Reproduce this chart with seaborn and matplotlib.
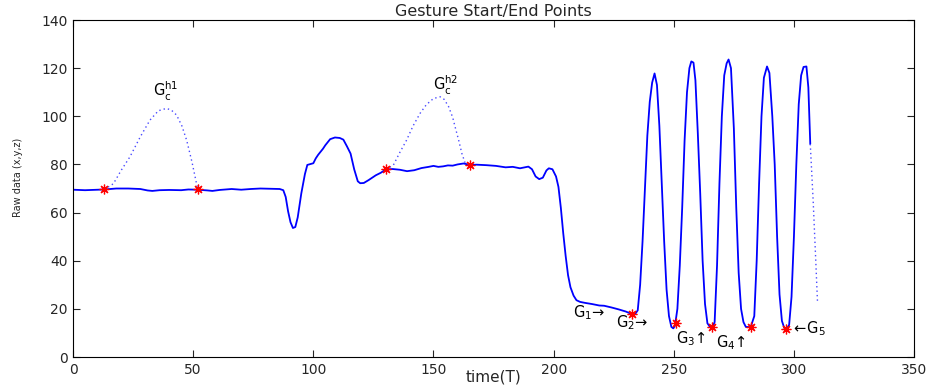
import matplotlib
matplotlib.use("Agg")
import matplotlib.pyplot as plt
import seaborn as sns
import pandas as pd

# Raw sensor trace (time, value)
trace_t = [0, 5, 10, 13, 18, 23, 28, 31, 33, 36, 40, 45, 48, 52, 56, 58, 61, 66, 70, 74,
           78, 82, 86, 87.5, 88.5, 89.5, 90.5, 91.5, 92.5, 93.5, 95, 96.5, 97.5, 99, 100,
           101, 102, 104, 105, 107, 109, 111, 112.5, 114, 115.5, 117, 118.5, 119.5, 121,
           123, 126, 128, 130.2, 133, 136, 139, 142, 145, 148, 150, 152, 154, 156, 158,
           160, 162.5, 165.3, 168, 172, 176, 180, 183, 186, 189.5, 191, 192.5, 194, 195.5,
           197, 198, 199.5, 201, 202, 203, 204, 205, 206, 207, 208.3, 209.5, 211, 213,
           216, 219, 221, 224, 227, 230, 232.7, 234, 235, 236, 237, 238, 239, 240, 241,
           242, 243, 244, 245, 246, 247, 248, 249, 249.8, 250.5, 251.5, 252.5, 253.5,
           254.5, 255.5, 256.5, 257.3, 258.2, 259, 260, 261, 262, 263, 264, 265, 266,
           267, 268, 269, 270, 271, 272, 272.8, 273.8, 275, 276, 277, 278, 279, 280, 282,
           283.5, 284.5, 285.5, 286.5, 287.5, 288.8, 289.8, 291, 292, 293, 294, 295, 296,
           297, 298, 299, 300, 301, 302, 303, 304, 305.2, 306, 306.8]
trace_v = [69.5, 69.3, 69.5, 69.6, 70.0, 70.0, 69.8, 69.2, 69.0, 69.3, 69.4, 69.3, 69.6,
           69.5, 69.2, 69.0, 69.4, 69.8, 69.5, 69.8, 70.0, 69.9, 69.8, 69.3, 66.5, 60.5,
           56.0, 53.6, 54.0, 58.0, 68.0, 76.0, 79.8, 80.2, 80.5, 82.5, 84.0, 86.5, 88.0,
           90.5, 91.2, 91.0, 90.3, 87.5, 84.5, 78.0, 73.0, 72.2, 72.3, 73.5, 75.5, 76.5,
           77.9, 78.1, 77.8, 77.2, 77.6, 78.5, 79.0, 79.4, 79.0, 79.2, 79.6, 79.5, 80.0,
           80.4, 79.8, 79.9, 79.7, 79.4, 78.8, 79.0, 78.4, 79.1, 78.0, 75.0, 73.9, 74.5,
           77.5, 78.4, 78.0, 75.0, 70.7, 62.0, 51.4, 42.0, 34.0, 29.0, 25.5, 23.6, 22.9,
           22.5, 22.0, 21.4, 21.3, 20.6, 19.8, 18.9, 17.8, 18.0, 19.4, 30.0, 48.0, 70.0,
           92.0, 106.0, 114.0, 117.8, 113.0, 96.0, 72.0, 48.0, 28.0, 17.0, 12.5, 11.9,
           13.0, 20.0, 38.0, 62.0, 90.0, 110.0, 120.0, 122.8, 122.3, 115.0, 93.0, 68.0,
           40.0, 22.0, 14.0, 12.6, 12.3, 14.5, 38.0, 72.0, 100.0, 117.0, 122.0, 123.6,
           120.0, 95.0, 62.0, 35.0, 20.0, 14.5, 12.5, 12.4, 17.0, 40.0, 72.0, 100.0,
           116.0, 120.7, 118.0, 100.0, 80.0, 50.0, 26.0, 15.0, 12.0, 11.7, 13.3, 25.0,
           50.0, 80.0, 105.0, 117.0, 120.5, 120.7, 112.0, 88.5]

# Dotted gesture hulls
hull1_t = [13, 16.8, 20, 23.7, 28, 32, 35.5, 38.9, 41, 43.1, 45.3, 47.3, 49.5, 51.4, 52]
hull1_v = [69.6, 72, 77.5, 83.2, 91.5, 98.4, 102.3, 103.3, 102.5, 100.5, 96, 90, 81, 72, 69.6]
hull2_t = [130.2, 133.3, 136, 138.8, 141.5, 144.4, 147, 150, 152.8, 154.5, 156.3, 158,
           159, 160.5, 161.8, 163.2, 165.3]
hull2_v = [77.9, 79.7, 85, 90.1, 96, 101.2, 104.8, 107.4, 108.1, 107, 104, 99.5, 95.6,
           90, 84.6, 80.5, 79.8]
tail_t = [306.8, 308, 309, 309.8]
tail_v = [88.5, 65, 42, 23]

# Detected start/end points
mark_t = [13, 52, 130.2, 165.3, 232.7, 251, 266, 282, 296.8]
mark_v = [69.6, 69.6, 77.9, 79.8, 17.8, 14.3, 12.5, 12.5, 11.5]

# Text labels (text, x, baseline y)
labels = [r"$G_c^{h1}$", r"$G_c^{h2}$", r"$G_1\!\rightarrow$", r"$G_2\!\rightarrow$",
          r"$G_3\!\uparrow$", r"$G_4\!\uparrow$", r"$\leftarrow\! G_5$"]
label_x = [33.4, 150, 208, 226, 251, 267.7, 298.9]
label_y = [108.1, 110.6, 16.6, 12.5, 5.6, 4.2, 9.7]

sns.set_style("ticks")
plt.rcParams["font.family"] = ["DejaVu Sans"]
plt.rcParams["mathtext.default"] = "regular"

fig = plt.figure(figsize=(9.28, 3.85), dpi=100)
ax = fig.add_axes([0.0787, 0.0727, 0.9063, 0.8753])

main = pd.DataFrame({"t": trace_t, "v": trace_v})
sns.lineplot(data=main, x="t", y="v", ax=ax, color="#0000ff", lw=1.3,
             sort=False, estimator=None)
for tt, vv in [(hull1_t, hull1_v), (hull2_t, hull2_v), (tail_t, tail_v)]:
    sns.lineplot(x=tt, y=vv, ax=ax, color="#4a4aff", lw=1.0, linestyle=(0, (1, 2.2)),
                 sort=False, estimator=None)

ax.plot(mark_t, mark_v, linestyle="none", marker=(8, 2, 0), markersize=7,
        markeredgecolor="#ff0000", markeredgewidth=0.9)

for txt, lx, ly in zip(labels, label_x, label_y):
    ax.text(lx, ly, txt, fontsize=10.5, ha="left", va="baseline", color="black")

ax.set_xlim(0, 350)
ax.set_ylim(0, 140)
ax.set_xticks([0, 50, 100, 150, 200, 250, 300, 350])
ax.set_yticks([0, 20, 40, 60, 80, 100, 120, 140])
ax.tick_params(direction="in", length=5, width=0.8, top=True, right=True,
               labelsize=10, pad=4)
for sp in ax.spines.values():
    sp.set_visible(True)
    sp.set_linewidth(0.8)
    sp.set_color("black")

ax.set_title("Gesture Start/End Points", fontsize=11.5, pad=3)
ax.set_xlabel("time(T)", fontsize=11)
ax.xaxis.set_label_coords(0.5, -0.06)
ax.xaxis.label.set_va("center")
ax.set_ylabel("Raw data (x,y,z)", fontsize=7,
              family=["DejaVu Sans Condensed", "Liberation Sans Narrow", "DejaVu Sans"])
ax.yaxis.set_label_coords(-0.066, 0.534)
ax.yaxis.label.set_va("center")

fig.savefig("out.png", dpi=100)
